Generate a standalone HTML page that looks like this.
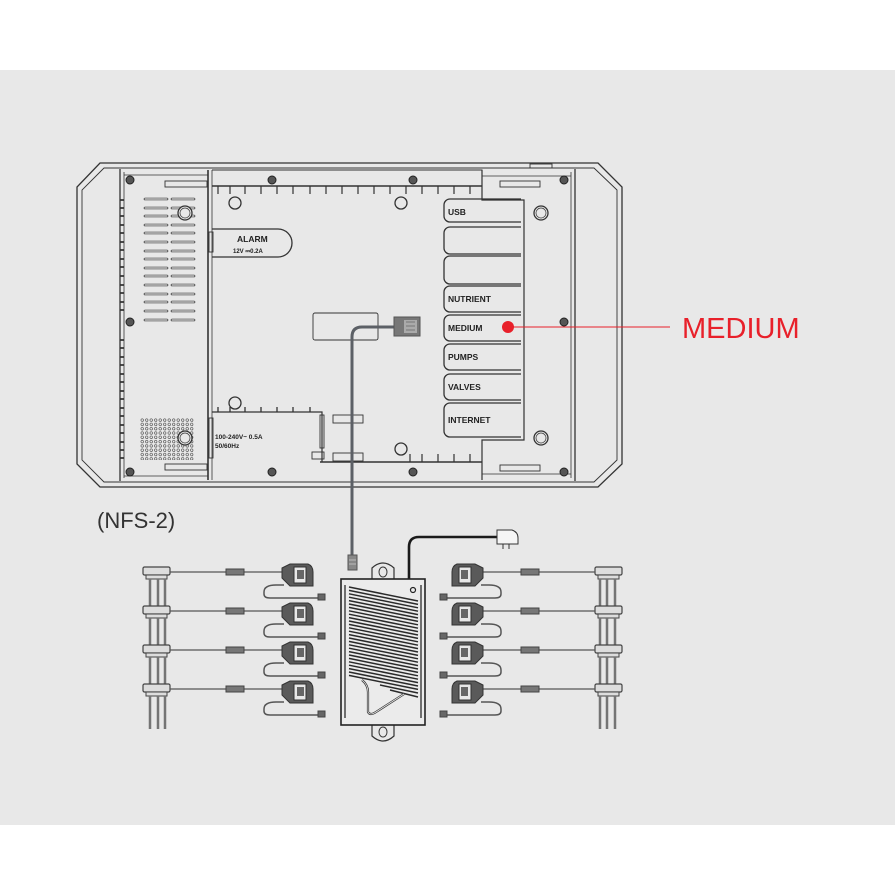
<!DOCTYPE html>
<html><head><meta charset="utf-8"><style>
html,body{margin:0;padding:0;background:#fff;}
svg{display:block;}
text{font-family:"Liberation Sans",sans-serif;}
</style></head><body>
<svg width="895" height="895" viewBox="0 0 895 895" xmlns="http://www.w3.org/2000/svg">
<rect x="0" y="0" width="895" height="895" fill="#fff"/>
<rect x="0" y="70" width="895" height="755" fill="#e8e8e8"/>

<g fill="none" stroke="#333" stroke-width="1.3">
<path d="M100,163 L598,163 L622,187 L622,464 L598,487 L100,487 L77,464 L77,187 Z"/>
<path d="M104,168 L594,168 L617,190 L617,460 L594,482 L104,482 L82,460 L82,190 Z" stroke-width="0.9"/>
<line x1="120" y1="169" x2="120" y2="481"/>
<line x1="575" y1="169" x2="575" y2="481"/>
<line x1="124" y1="172" x2="124" y2="478" stroke-width="0.8"/>
<line x1="571" y1="172" x2="571" y2="478" stroke-width="0.8"/>
<line x1="208" y1="170" x2="208" y2="480" stroke-width="1.6"/>
<line x1="212" y1="170" x2="212" y2="480" stroke-width="0.8"/>
<line x1="124" y1="175" x2="208" y2="175" stroke-width="0.8"/>
<line x1="124" y1="476" x2="208" y2="476" stroke-width="0.8"/>
<rect x="165" y="181" width="42" height="6" stroke-width="0.9"/>
<rect x="165" y="464" width="42" height="6" stroke-width="0.9"/>
<path d="M212,170 L482,170 L482,186 L212,186" stroke-width="1"/>
<path d="M212,186 H482" stroke-width="1.6"/>
<path d="M218,186v8M230,186v8M245,186v8M261,186v8M277,186v8M293,186v8M310,186v8M326,186v8M342,186v8M358,186v8M374,186v8M390,186v8M406,186v8M422,186v8M438,186v8M454,186v8M470,186v8" stroke-width="1.2"/>
<path d="M482,170 L482,200 L524,200 L524,440 L482,440 L482,480" stroke-width="1.2"/>
<path d="M482,176 L571,176" stroke-width="0.8"/>
<path d="M482,474 L571,474" stroke-width="0.8"/>
<rect x="500" y="181" width="40" height="6" stroke-width="0.9"/>
<rect x="500" y="465" width="40" height="6" stroke-width="0.9"/>
<rect x="530" y="164" width="22" height="4" stroke-width="0.9"/>
<path d="M320,462 H482" stroke-width="1.6"/>
<path d="M410,462v-8M422,462v-8M438,462v-8M454,462v-8M470,462v-8" stroke-width="1.2"/>
<path d="M212,412 L322,412 L322,462" stroke-width="1.2"/>
<path d="M218,412v-5M230,412v-5M245,412v-5M261,412v-5M277,412v-5M293,412v-5M310,412v-5"/>
<rect x="320" y="415" width="4" height="33" stroke-width="0.9"/>
<rect x="312" y="452" width="12" height="7" stroke-width="0.9"/>
<rect x="333" y="415" width="30" height="8" stroke-width="0.9"/>
<rect x="333" y="453" width="30" height="8" stroke-width="0.9"/>
<rect x="209" y="232" width="4" height="20" stroke-width="0.9"/>
<rect x="209" y="418" width="4" height="40" stroke-width="0.9"/>
<path d="M212,229 H278 A14,14 0 0 1 278,257 H212"/>
<circle cx="235" cy="203" r="6"/>
<circle cx="401" cy="203" r="6"/>
<circle cx="235" cy="403" r="6"/>
<circle cx="401" cy="449" r="6"/>
<circle cx="541" cy="213" r="7"/><circle cx="541" cy="213" r="5" stroke-width="0.7"/>
<circle cx="541" cy="438" r="7"/><circle cx="541" cy="438" r="5" stroke-width="0.7"/>
<rect x="313" y="313" width="65" height="27" rx="2" stroke-width="0.9"/>
<path d="M521,199 H450 A6,6 0 0 0 444,205 V216 A6,6 0 0 0 450,222 H521"/>
<path d="M521,227 H450 A6,6 0 0 0 444,233 V248 A6,6 0 0 0 450,254 H521"/>
<path d="M521,256 H450 A6,6 0 0 0 444,262 V278 A6,6 0 0 0 450,284 H521"/>
<path d="M521,286 H450 A6,6 0 0 0 444,292 V306 A6,6 0 0 0 450,312 H521"/>
<path d="M521,315 H450 A6,6 0 0 0 444,321 V335 A6,6 0 0 0 450,341 H521"/>
<path d="M521,344 H450 A6,6 0 0 0 444,350 V364 A6,6 0 0 0 450,370 H521"/>
<path d="M521,374 H450 A6,6 0 0 0 444,380 V394 A6,6 0 0 0 450,400 H521"/>
<path d="M521,403 H450 A6,6 0 0 0 444,409 V431 A6,6 0 0 0 450,437 H521"/>
<path d="M145,199h22M172,199h22M145,208h22M172,208h22M145,216h22M172,216h22M145,225h22M172,225h22M145,233h22M172,233h22M145,242h22M172,242h22M145,251h22M172,251h22M145,259h22M172,259h22M145,268h22M172,268h22M145,276h22M172,276h22M145,285h22M172,285h22M145,294h22M172,294h22M145,302h22M172,302h22M145,311h22M172,311h22M145,320h22M172,320h22" stroke-width="2.6" stroke-linecap="round"/>
<path d="M145,199h22M172,199h22M145,208h22M172,208h22M145,216h22M172,216h22M145,225h22M172,225h22M145,233h22M172,233h22M145,242h22M172,242h22M145,251h22M172,251h22M145,259h22M172,259h22M145,268h22M172,268h22M145,276h22M172,276h22M145,285h22M172,285h22M145,294h22M172,294h22M145,302h22M172,302h22M145,311h22M172,311h22M145,320h22M172,320h22" stroke="#e8e8e8" stroke-width="1.2" stroke-linecap="round"/>
<path d="M120,200h4M120,208h4M120,216h4M120,225h4M120,233h4M120,242h4M120,250h4M120,259h4M120,267h4M120,276h4M120,285h4M120,293h4M120,302h4M120,310h4M120,340h4M120,348h4M120,357h4M120,365h4M120,374h4M120,382h4M120,391h4M120,399h4M120,408h4M120,416h4M120,425h4M120,433h4M120,442h4M120,450h4M120,458h4" stroke-width="1.8"/>
</g>
<defs>
<pattern id="dots" x="140" y="418" width="4.5" height="4.3" patternUnits="userSpaceOnUse"><circle cx="2.2" cy="2.1" r="1.3" fill="none" stroke="#444" stroke-width="0.6"/></pattern>
</defs>
<rect x="140" y="418" width="54" height="42" fill="url(#dots)"/>
<circle cx="185" cy="438" r="7" fill="#e8e8e8" stroke="#333" stroke-width="1.3"/><circle cx="185" cy="438" r="5" fill="none" stroke="#333" stroke-width="0.7"/>
<circle cx="185" cy="213" r="7" fill="#e8e8e8" stroke="#333" stroke-width="1.3"/><circle cx="185" cy="213" r="5" fill="none" stroke="#333" stroke-width="0.7"/>
<g fill="#555" stroke="#222" stroke-width="1">
<circle cx="130" cy="180" r="4"/><circle cx="130" cy="322" r="4"/><circle cx="130" cy="472" r="4"/>
<circle cx="564" cy="180" r="4"/><circle cx="564" cy="322" r="4"/><circle cx="564" cy="472" r="4"/>
<circle cx="272" cy="180" r="4"/><circle cx="413" cy="180" r="4"/>
<circle cx="272" cy="472" r="4"/><circle cx="413" cy="472" r="4"/>
</g>
<g font-family="Liberation Sans" font-weight="bold" fill="#222">
<text x="237" y="242" font-size="8.5">ALARM</text>
<text x="233" y="253" font-size="6">12V ⎓0.2A</text>
<text x="215" y="439" font-size="6.5">100-240V~  0.5A</text>
<text x="215" y="448" font-size="6.5">50/60Hz</text>
<text x="448" y="215" font-size="8.5">USB</text>
<text x="448" y="302" font-size="8.5">NUTRIENT</text>
<text x="448" y="331" font-size="8.5">MEDIUM</text>
<text x="448" y="360" font-size="8.5">PUMPS</text>
<text x="448" y="390" font-size="8.5">VALVES</text>
<text x="448" y="423" font-size="8.5">INTERNET</text>
</g>
<line x1="508" y1="327" x2="670" y2="327" stroke="#e8202a" stroke-width="1"/>
<circle cx="508" cy="327" r="6" fill="#e8202a"/>
<text x="682" y="338" font-size="29" fill="#e8202a">MEDIUM</text>
<text x="97" y="528" font-size="22" fill="#333">(NFS-2)</text>

<path d="M398,327 H362 Q352,327 352,337 V556" fill="none" stroke="#5c6066" stroke-width="3"/>
<rect x="394" y="317" width="26" height="19" fill="#777" stroke="#555"/>
<rect x="404" y="320" width="13" height="13" fill="#aaa"/>
<path d="M406,322h9M406,326h9M406,330h9" stroke="#666" stroke-width="0.8"/>
<rect x="348" y="555" width="9" height="15" fill="#888" stroke="#555"/>
<path d="M349,560h7M349,564h7" stroke="#ccc" stroke-width="0.8"/>

<path d="M409,579 V547 Q409,537 419,537 H497" fill="none" stroke="#1a1a1a" stroke-width="2.6"/>
<path d="M497,530 H512 Q518,532 518,538 V544 H497 Z" fill="#f5f5f5" stroke="#333"/>
<path d="M503,544v5M509,544v5" stroke="#333"/>

<path d="M372,580 V568 Q383,558 394,568 V580" fill="#e8e8e8" stroke="#333" stroke-width="1.2"/>
<ellipse cx="383" cy="572" rx="4" ry="5" fill="none" stroke="#333"/>
<path d="M372,724 V736 Q383,746 394,736 V724" fill="#e8e8e8" stroke="#333" stroke-width="1.2"/>
<ellipse cx="383" cy="732" rx="4" ry="5" fill="none" stroke="#333"/>
<rect x="341" y="579" width="84" height="146" fill="#ebebeb" stroke="#222" stroke-width="1.6"/>
<path d="M345,585 V718 M421,585 V718" stroke="#444" stroke-width="1.5"/>
<circle cx="413" cy="590" r="2.5" fill="none" stroke="#222" stroke-width="1.2"/>
<g stroke="#2a2a2a" stroke-width="1.5">
<path d="M349,587 L418,601 M349,590.4 L418,604.4 M349,593.8 L418,607.8 M349,597.2 L418,611.2 M349,600.6 L418,614.6 M349,604 L418,618 M349,607.4 L418,621.4 M349,610.8 L418,624.8 M349,614.2 L418,628.2 M349,617.6 L418,631.6 M349,621 L418,635 M349,624.4 L418,638.4 M349,627.8 L418,641.8 M349,631.2 L418,645.2 M349,634.6 L418,648.6 M349,638 L418,652 M349,641.4 L418,655.4 M349,644.8 L418,658.8 M349,648.2 L418,662.2 M349,651.6 L418,665.6 M349,655 L418,669 M349,658.4 L418,672.4 M349,661.8 L418,675.8 M349,665.2 L418,679.2 M349,668.6 L418,682.6 M349,672 L418,686 M349,675.4 L418,689.4 M380,685 L418,693 M390,690 L418,697"/>
</g>
<path d="M362,680 Q368,685 368,692 V712 Q370,716 376,712 L404,694" fill="none" stroke="#333" stroke-width="2.2"/>
<path d="M362,680 Q368,685 368,692 V712 Q370,716 376,712 L404,694" fill="none" stroke="#ebebeb" stroke-width="0.8"/>

<defs>
<g id="sL">
<rect x="143" y="567" width="27" height="8" rx="1.5" fill="#ddd" stroke="#444" stroke-width="1.2"/>
<rect x="146" y="575" width="21" height="4" fill="#ddd" stroke="#444"/>
<path d="M150,579V612M158,579V612M165,579V612" stroke="#555" stroke-width="2.4"/>
<path d="M150,579V612M158,579V612M165,579V612" stroke="#bbb" stroke-width="0.6"/>
<line x1="170" y1="572" x2="282" y2="572" stroke="#555" stroke-width="1.3"/>
<rect x="226" y="569" width="18" height="6" fill="#777" stroke="#444"/>
<path d="M282,568 L290,564 H308 Q313,566 313,572 V586 H290 L282,578 Z" fill="#5a5a5a" stroke="#333"/>
<rect x="294" y="567" width="12" height="16" fill="#e8e8e8" stroke="#333"/>
<rect x="297" y="570" width="7" height="9" fill="#666"/>
<path d="M284,585 H276 Q264,585 264,592 V594 Q264,598 270,598 H318" fill="none" stroke="#555" stroke-width="1.5"/>
<rect x="318" y="594" width="7" height="6" fill="#666" stroke="#444"/>
</g>
</defs>
<use href="#sL"/>
<use href="#sL" transform="translate(0,39)"/>
<use href="#sL" transform="translate(0,78)"/>
<use href="#sL" transform="translate(0,117)"/>
<g transform="translate(765,0) scale(-1,1)">
<use href="#sL"/>
<use href="#sL" transform="translate(0,39)"/>
<use href="#sL" transform="translate(0,78)"/>
<use href="#sL" transform="translate(0,117)"/>
</g>
</svg>
</body></html>
